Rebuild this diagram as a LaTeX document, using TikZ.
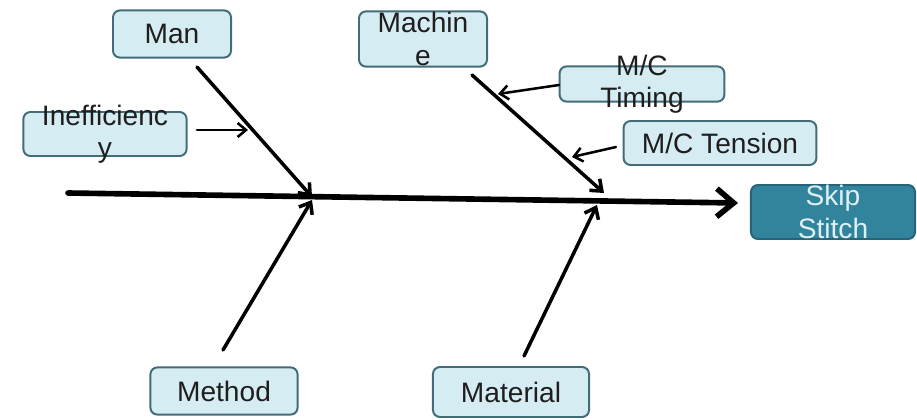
\documentclass[tikz,border=0pt]{standalone}
\usepackage{fontspec}
\setmainfont{Liberation Sans}
\usepackage{tikz}
\usetikzlibrary{arrows.meta}
\definecolor{boxfill}{RGB}{214,236,243}
\definecolor{boxline}{RGB}{66,108,120}
\definecolor{effectfill}{RGB}{50,132,156}
\definecolor{effectline}{RGB}{38,100,120}
\definecolor{effecttext}{RGB}{222,240,246}
\definecolor{labeltext}{RGB}{30,30,30}
\tikzset{
    cause/.style = {draw=boxline, fill=boxfill, line width=1.4pt, rounded corners=5pt, inner sep=0pt, text=labeltext},
    effect/.style = {draw=effectline, fill=effectfill, line width=1.4pt, rounded corners=5pt, inner sep=0pt},
    spine/.style = {line width=4pt, -{Straight Barb[length=12pt,width=20pt,line width=4pt]}},
    bone/.style = {line width=2.5pt, -{Straight Barb[length=7pt,width=11pt,line width=2.5pt]}},
    subcause/.style = {line width=1.8pt, -{Straight Barb[length=6pt,width=10pt,line width=1.8pt]}}
}

\begin{document}
\begin{tikzpicture}[x=0.025cm, y=-0.025cm, line cap=round, line join=round, font=\fontsize{20}{23}\selectfont]
\useasboundingbox (0,0) rectangle (917,420);

% boxes
\node[cause, minimum width=2.95cm, minimum height=1.18cm] (man) at (172,34) {Man};
\node[cause, minimum width=3.2cm, minimum height=1.38cm] (mach) at (423,39) {};
\node[align=center, text=labeltext] (machtext) at (mach) {Machin\\e};
\node[cause, minimum width=4.08cm, minimum height=1.1cm] (ineff) at (105,134) {};
\node[align=center, text=labeltext] (ineftext) at (ineff) {Inefficienc\\y};
\node[cause, minimum width=4.12cm, minimum height=0.88cm] (timing) at (642,84) {};
\node[align=center, text=labeltext] (timtext) at (timing) {M/C\\Timing};
\node[cause, minimum width=4.82cm, minimum height=1.1cm] (tension) at (720,143) {M/C Tension};
\node[effect, minimum width=4.1cm, minimum height=1.35cm] (skip) at (833,212) {};
\node[align=center, text=effecttext] (skiptext) at (skip) {Skip\\Stitch};
\node[cause, minimum width=3.68cm, minimum height=1.18cm] (method) at (224,391) {Method};
\node[cause, minimum width=3.9cm, minimum height=1.25cm] (mat) at (511,392) {Material};

% spine
\coordinate (tail) at (68,193);
\coordinate (head) at (738,203);
\draw[spine] (tail) -- (head);

% bones
\coordinate (manA) at (197,67);
\coordinate (manB) at (312,197);
\coordinate (machA) at (472,75);
\coordinate (machB) at (604,193);
\coordinate (methA) at (223,350);
\coordinate (methB) at (312,200);
\coordinate (matA) at (524,356);
\coordinate (matB) at (597,205);
\draw[bone] (manA) -- (manB);
\draw[bone] (machA) -- (machB);
\draw[bone] (methA) -- (methB);
\draw[bone] (matA) -- (matB);

% sub causes
\coordinate (inefA) at (197,130);
\coordinate (inefB) at (248,130);
\coordinate (timA) at (559,85);
\coordinate (timB) at (498,94);
\coordinate (tenA) at (616,147);
\coordinate (tenB) at (572,157);
\draw[subcause] (inefA) -- (inefB);
\draw[subcause] (timA) -- (timB);
\draw[subcause] (tenA) -- (tenB);
\end{tikzpicture}
\end{document}
